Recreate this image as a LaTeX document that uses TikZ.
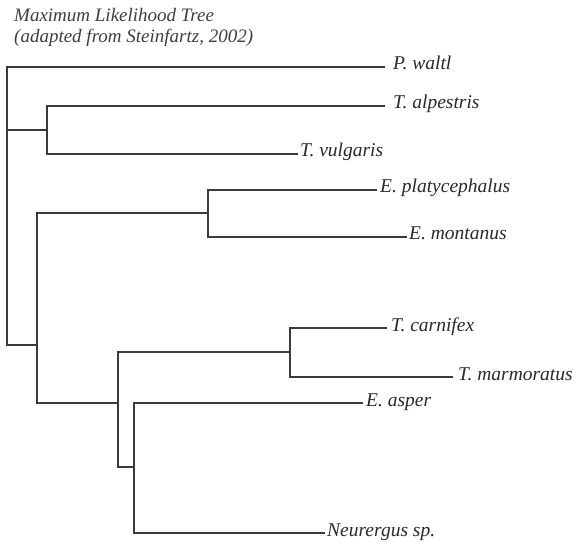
\documentclass[tikz,border=0pt]{standalone}
\usepackage{fontspec}
\setmainfont{Liberation Serif}
\usepackage{tikz}
\usetikzlibrary{backgrounds}
\definecolor{inkgray}{HTML}{3A3A3A}
\definecolor{textgray}{HTML}{2A2A2A}
\tikzstyle{taxon}        = [anchor=west, inner ysep=0pt, inner xsep=2pt, text height=9pt, text depth=3pt, font=\fontsize{19.5}{22}\selectfont\itshape, text=textgray]
\tikzstyle{caption}      = [anchor=base west, inner sep=0pt, font=\fontsize{19}{22}\selectfont\itshape, text=textgray!90]
\tikzstyle{branch}       = [line width=1.5pt, draw=inkgray, line join=miter]
\tikzstyle{branchshadow} = [line width=5pt, draw=black, opacity=0.06]

\begin{document}
\begin{tikzpicture}[x=1pt, y=-1pt]
      \fill[white] (0,0) rectangle (583,545);
      \useasboundingbox (0,0) rectangle (583,545);

      % Caption
      \node (title)  [caption] at (14,22) {Maximum Likelihood Tree};
      \node (source) [caption] at (14,43) {(adapted from Steinfartz, 2002)};

      % Nodes
      %% Inner nodes (x of the bar, y where the parent meets it)
      \coordinate (root)   at (7,206);
      \coordinate (alpvul) at (47,130);
      \coordinate (rest)   at (37,345);
      \coordinate (euproc) at (208,213);
      \coordinate (lower)  at (118,403);
      \coordinate (trit)   at (290,352);
      \coordinate (aspneu) at (134,467);
      %% Leaves
      \node (waltl)         [taxon, inner xsep=8pt] at (385,67)  {P.\ waltl};
      \node (alpestris)     [taxon, inner xsep=8pt] at (385,106) {T.\ alpestris};
      \node (vulgaris)      [taxon]                 at (298,154) {T.\ vulgaris};
      \node (platycephalus) [taxon, inner xsep=3pt] at (377,190) {E.\ platycephalus};
      \node (montanus)      [taxon]                 at (407,237) {E.\ montanus};
      \node (carnifex)      [taxon, inner xsep=4pt] at (387,328) {T.\ carnifex};
      \node (marmoratus)    [taxon, inner xsep=5pt] at (453,377) {T.\ marmoratus};
      \node (asper)         [taxon, inner xsep=3pt] at (363,403) {E.\ asper};
      \node (neurergus)     [taxon]                 at (325,533) {Neurergus sp.};

      % Branches
      \begin{pgfonlayer}{background}
        \foreach \from/\to in {root/waltl.west, root/alpvul, root/rest,
                               alpvul/alpestris.west, alpvul/vulgaris.west,
                               rest/euproc, rest/lower,
                               euproc/platycephalus.west, euproc/montanus.west,
                               lower/trit, lower/aspneu,
                               trit/carnifex.west, trit/marmoratus.west,
                               aspneu/asper.west, aspneu/neurergus.west}
          \draw [branchshadow] ([shift={(3,4)}]\from) |- ([shift={(3,4)}]\to);
      \end{pgfonlayer}
      \foreach \from/\to in {root/waltl.west, root/alpvul, root/rest,
                             alpvul/alpestris.west, alpvul/vulgaris.west,
                             rest/euproc, rest/lower,
                             euproc/platycephalus.west, euproc/montanus.west,
                             lower/trit, lower/aspneu,
                             trit/carnifex.west, trit/marmoratus.west,
                             aspneu/asper.west, aspneu/neurergus.west}
        \draw [branch] (\from) |- (\to);
    \end{tikzpicture}
\end{document}
